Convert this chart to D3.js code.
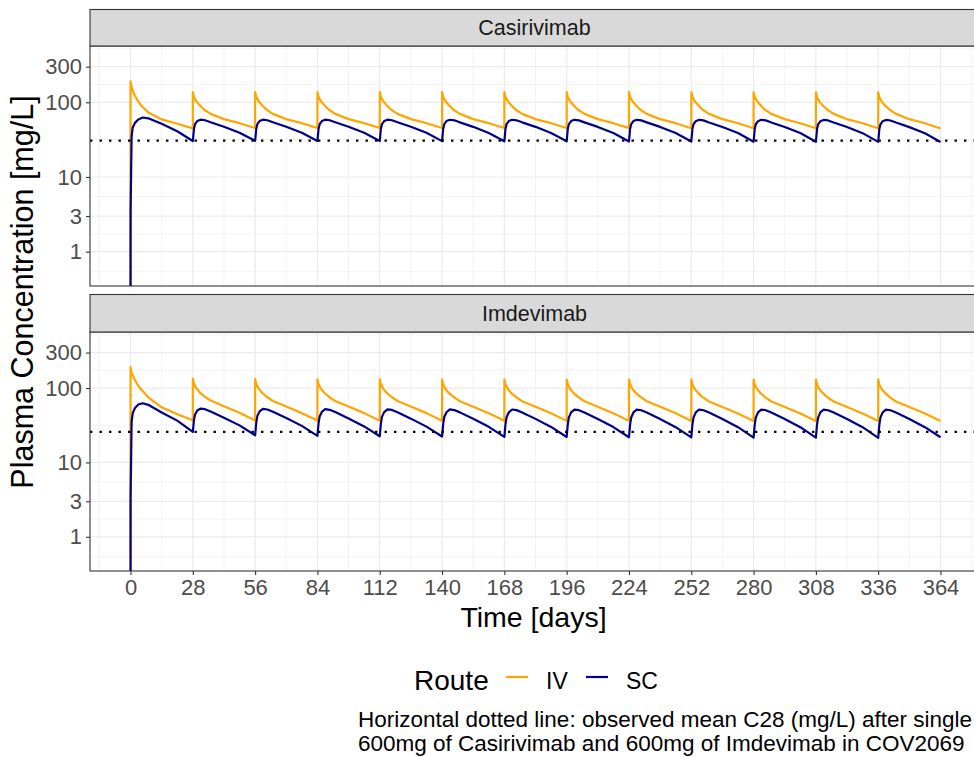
<!DOCTYPE html>
<html>
<head>
<meta charset="utf-8">
<script src="https://cdn.jsdelivr.net/npm/d3@7"></script>
<style>
body{margin:0;background:#fff;}
text{font-family:"Liberation Sans", Arial, sans-serif;}
</style>
</head>
<body>
<svg id="chart" width="974" height="757"></svg>
<script>
// dosing schedule: one dose every 4 weeks, simulation runs to day 364
var doseDays = [0,28,56,84,112,140,168,196,224,252,280,308,336];
var lastDay = 364;

// sampling times inside each dosing interval (days after the dose)
var ivOffsets = [0, 0.02, 0.5, 1.5, 3, 5, 8, 14, 21];
var scOffsets = [0, 0.04, 0.5, 1, 2, 3.5, 5.5, 8, 14, 21];

// Casirivimab, IV route (mg/L), one row per dosing interval
var casIV = [
  [0.01, 191, 160, 130, 108, 89, 73, 59, 51.5],
  [44.8, 137, 119, 104, 92, 80, 70, 59.5, 52.5],
  [45.3, 137, 119, 104, 92, 80, 70, 59.5, 52.5],
  [45.4, 137, 119, 104, 92, 80, 70, 59.5, 52.5],
  [45.4, 137, 119, 104, 92, 80, 70, 59.5, 52.5],
  [45.3, 137, 119, 104, 92, 80, 70, 59.5, 52.5],
  [45.2, 137, 119, 104, 92, 80, 70, 59.5, 52.5],
  [45.2, 137, 119, 104, 92, 80, 70, 59.5, 52.5],
  [45.1, 137, 119, 104, 92, 80, 70, 59.5, 52.5],
  [45.0, 136, 119, 104, 92, 80, 70, 59.5, 52.4],
  [45.0, 136, 119, 104, 92, 80, 70, 59.5, 52.4],
  [44.9, 136, 118, 103, 91, 80, 70, 59.4, 52.3],
  [44.9, 136, 118, 103, 91, 80, 70, 59.4, 52.3]
];
var casIVEnd = 44.6;

// Casirivimab, SC route
var casSC = [
  [0.01, 3.4, 35, 46, 53, 59, 62.5, 61, 51.5, 41],
  [30.3, 30.8, 44, 51, 56, 58.5, 57.5, 54, 47, 39],
  [30.5, 31.0, 44, 51, 56, 58.5, 57.5, 54, 47, 39],
  [30.4, 30.9, 44, 51, 56, 58.5, 57.5, 54, 47, 39],
  [30.3, 30.8, 44, 51, 56, 58.5, 57.5, 54, 47, 39],
  [30.2, 30.7, 44, 51, 56, 58.4, 57.4, 53.9, 46.9, 38.9],
  [30.1, 30.6, 44, 51, 56, 58.4, 57.4, 53.9, 46.9, 38.9],
  [30.0, 30.5, 44, 51, 56, 58.3, 57.3, 53.8, 46.8, 38.8],
  [29.9, 30.4, 44, 51, 56, 58.3, 57.3, 53.8, 46.8, 38.8],
  [29.8, 30.3, 43.8, 50.8, 55.8, 58.2, 57.2, 53.7, 46.7, 38.7],
  [29.7, 30.2, 43.8, 50.8, 55.8, 58.2, 57.2, 53.7, 46.7, 38.7],
  [29.6, 30.1, 43.7, 50.7, 55.7, 58.1, 57.1, 53.6, 46.6, 38.6],
  [29.5, 30.0, 43.7, 50.7, 55.7, 58.0, 57.0, 53.5, 46.5, 38.5]
];
var casSCEnd = 29.4;

// Imdevimab, IV route
var imdIV = [
  [0.01, 191, 160, 138, 113, 94, 75, 55, 44.5],
  [37.0, 134, 115, 100, 88, 78, 68, 57, 46.5],
  [36.6, 132, 114, 99, 87, 77, 67, 56.5, 46],
  [36.5, 131, 113, 99, 87, 77, 67, 56.5, 46],
  [36.4, 131, 113, 99, 87, 77, 67, 56.5, 46],
  [36.3, 130, 113, 98, 86, 76.5, 66.5, 56, 45.8],
  [36.3, 130, 113, 98, 86, 76.5, 66.5, 56, 45.8],
  [36.2, 130, 113, 98, 86, 76.5, 66.5, 56, 45.8],
  [36.2, 130, 113, 98, 86, 76.5, 66.5, 56, 45.8],
  [36.1, 130, 112, 98, 86, 76, 66, 55.8, 45.6],
  [36.1, 130, 112, 98, 86, 76, 66, 55.8, 45.6],
  [36.0, 130, 112, 98, 86, 76, 66, 55.8, 45.6],
  [36.0, 130, 112, 98, 86, 76, 66, 55.8, 45.6]
];
var imdIVEnd = 36.0;

// Imdevimab, SC route
var imdSC = [
  [0.01, 3.4, 35, 46, 54, 60, 62.5, 59.5, 47, 36.5],
  [25.7, 26.2, 37, 44, 50, 53, 52, 48.5, 40, 31.5],
  [23.2, 23.7, 34, 42, 48.5, 52.5, 51.5, 48, 39.5, 31],
  [22.8, 23.3, 33.5, 41.5, 48, 52, 51, 47.5, 39, 30.5],
  [22.5, 23.0, 33, 41, 47.5, 51.8, 50.8, 47.3, 38.8, 30.3],
  [22.3, 22.8, 32.8, 40.8, 47.3, 51.6, 50.6, 47.1, 38.6, 30.1],
  [22.1, 22.6, 32.6, 40.6, 47.2, 51.5, 50.5, 47, 38.5, 30],
  [22.0, 22.5, 32.4, 40.4, 47.1, 51.4, 50.4, 46.9, 38.4, 29.9],
  [21.8, 22.3, 32.2, 40.2, 47, 51.3, 50.3, 46.8, 38.3, 29.8],
  [21.7, 22.2, 32.1, 40.1, 47, 51.3, 50.3, 46.8, 38.3, 29.8],
  [21.6, 22.1, 32, 40, 47, 51.3, 50.3, 46.8, 38.3, 29.8],
  [21.5, 22.0, 32, 40, 47, 51.3, 50.3, 46.8, 38.3, 29.8],
  [21.4, 21.9, 32, 40, 47, 51.3, 50.3, 46.8, 38.3, 29.8]
];
var imdSCEnd = 21.8;

var panelNames = ["Casirivimab", "Imdevimab"];
var c28Observed = [30.7, 25.7];   // dotted reference lines
var routes = ["IV", "SC"];
var routeColors = ["#FFA500", "#00008B"];

var xTicks = [0,28,56,84,112,140,168,196,224,252,280,308,336,364];
var xMinor = [-14,14,42,70,98,126,154,182,210,238,266,294,322,350,378];
var yTicks = [1,3,10,100,300];
var yMinor = [0.54,1.73,5.48,31.6,173,520];

function buildSeries(offsets, rows, endVal){
  var pts = [];
  for (var i=0;i<doseDays.length;i++){
    for (var j=0;j<offsets.length;j++){
      pts.push({t: doseDays[i]+offsets[j], v: rows[i][j]});
    }
  }
  pts.push({t: lastDay, v: endVal});
  return pts;
}

var panelData = [
  [buildSeries(ivOffsets, casIV, casIVEnd), buildSeries(scOffsets, casSC, casSCEnd)],
  [buildSeries(ivOffsets, imdIV, imdIVEnd), buildSeries(scOffsets, imdSC, imdSCEnd)]
];

var svg = d3.select("#chart");
var left = 90, right = 981;
var panels = [
  {stripTop: 9.5, top: 46, bottom: 286},
  {stripTop: 294.5, top: 332, bottom: 571}
];

var x = d3.scaleLinear().domain([-18.2, 382.2]).range([left, right]);

for (var p=0;p<panels.length;p++){
  var pan = panels[p];
  var y = d3.scaleLog().domain([0.347, 567]).range([pan.bottom, pan.top]);
  var g = svg.append("g");

  g.append("clipPath").attr("id", "clip" + p)
    .append("rect")
    .attr("x", left).attr("y", pan.top)
    .attr("width", right-left).attr("height", pan.bottom-pan.top);

  // grid (minor then major)
  g.selectAll(".xminor").data(xMinor).enter().append("line")
    .attr("x1", function(d){return x(d);}).attr("x2", function(d){return x(d);})
    .attr("y1", pan.top).attr("y2", pan.bottom)
    .attr("stroke", "#ebebeb").attr("stroke-width", 0.6);
  g.selectAll(".yminor").data(yMinor).enter().append("line")
    .attr("x1", left).attr("x2", right)
    .attr("y1", function(d){return y(d);}).attr("y2", function(d){return y(d);})
    .attr("stroke", "#ebebeb").attr("stroke-width", 0.6);
  g.selectAll(".xmajor").data(xTicks).enter().append("line")
    .attr("x1", function(d){return x(d);}).attr("x2", function(d){return x(d);})
    .attr("y1", pan.top).attr("y2", pan.bottom)
    .attr("stroke", "#ebebeb").attr("stroke-width", 1.2);
  g.selectAll(".ymajor").data(yTicks).enter().append("line")
    .attr("x1", left).attr("x2", right)
    .attr("y1", function(d){return y(d);}).attr("y2", function(d){return y(d);})
    .attr("stroke", "#ebebeb").attr("stroke-width", 1.2);

  // concentration curves, SC drawn on top of IV
  var line = d3.line()
    .x(function(d){return x(d.t);})
    .y(function(d){return y(d.v);});
  var lg = g.append("g").attr("clip-path", "url(#clip" + p + ")");
  for (var r=0;r<routes.length;r++){
    lg.append("path")
      .datum(panelData[p][r])
      .attr("d", line)
      .attr("fill", "none")
      .attr("stroke", routeColors[r])
      .attr("stroke-width", 2.2)
      .attr("stroke-linejoin", "round");
  }

  // observed C28
  g.append("line")
    .attr("x1", left).attr("x2", right)
    .attr("y1", y(c28Observed[p])).attr("y2", y(c28Observed[p]))
    .attr("stroke", "#000").attr("stroke-width", 2.2)
    .attr("stroke-dasharray", "2.4,7.1");

  // panel border
  g.append("rect")
    .attr("x", left).attr("y", pan.top)
    .attr("width", right-left).attr("height", pan.bottom-pan.top)
    .attr("fill", "none").attr("stroke", "#333333").attr("stroke-width", 1.1);

  // strip
  g.append("rect")
    .attr("x", left).attr("y", pan.stripTop)
    .attr("width", right-left).attr("height", pan.top-pan.stripTop)
    .attr("fill", "#d9d9d9").attr("stroke", "#333333").attr("stroke-width", 1.1);
  g.append("text")
    .attr("x", (left+right)/2 - 1).attr("y", (pan.stripTop+pan.top)/2)
    .attr("dy", "0.35em")
    .attr("text-anchor", "middle")
    .attr("font-size", "21.5px")
    .attr("fill", "#1a1a1a")
    .text(panelNames[p]);

  // y axis
  var yAxis = d3.axisLeft(y).tickValues(yTicks).tickSize(4).tickPadding(4)
    .tickFormat(function(d){return d;});
  var ya = g.append("g").attr("transform", "translate(" + left + ",0)").call(yAxis);
  ya.select(".domain").remove();
  ya.selectAll("line").attr("stroke", "#333333").attr("stroke-width", 1.1);
  ya.selectAll("text").attr("font-size", "22px").attr("fill", "#4d4d4d")
    .attr("font-family", "Liberation Sans, Arial, sans-serif");

  if (p==panels.length-1){
    var xAxis = d3.axisBottom(x).tickValues(xTicks).tickSize(4).tickPadding(4);
    var xa = g.append("g").attr("transform", "translate(0," + pan.bottom + ")").call(xAxis);
    xa.select(".domain").remove();
    xa.selectAll("line").attr("stroke", "#333333").attr("stroke-width", 1.1);
    xa.selectAll("text").attr("font-size", "22px").attr("fill", "#4d4d4d")
      .attr("font-family", "Liberation Sans, Arial, sans-serif");
  }
}

// axis titles
svg.append("text")
  .attr("x", (left+right)/2 - 2).attr("y", 627)
  .attr("text-anchor", "middle").attr("font-size", "28.5px")
  .text("Time [days]");
svg.append("text")
  .attr("transform", "translate(33,292) rotate(-90)")
  .attr("text-anchor", "middle").attr("font-size", "30.5px")
  .text("Plasma Concentration [mg/L]");

// legend
var legend = svg.append("g");
legend.append("text").attr("x", 414).attr("y", 690).attr("font-size", "28px").text("Route");
var keyX = [506, 586];
for (var k=0;k<routes.length;k++){
  legend.append("line")
    .attr("x1", keyX[k]).attr("x2", keyX[k]+22)
    .attr("y1", 677).attr("y2", 677)
    .attr("stroke", routeColors[k]).attr("stroke-width", 2.2);
  legend.append("text")
    .attr("x", keyX[k]+40).attr("y", 689)
    .attr("font-size", "23px")
    .text(routes[k]);
}

// caption
svg.append("text").attr("x", 358).attr("y", 727).attr("font-size", "22.5px")
  .text("Horizontal dotted line: observed mean C28 (mg/L) after single");
svg.append("text").attr("x", 358).attr("y", 751).attr("font-size", "22.5px")
  .text("600mg of Casirivimab and 600mg of Imdevimab in COV2069");
</script>
</body>
</html>
